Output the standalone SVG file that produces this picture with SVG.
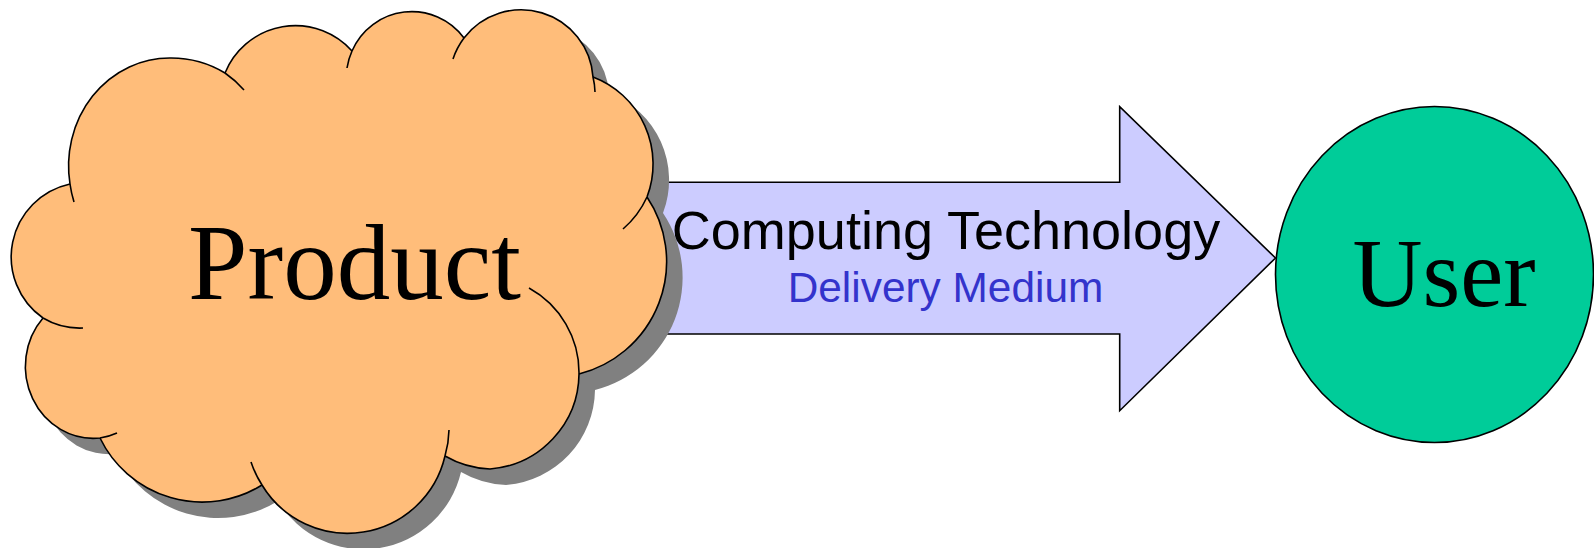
<svg xmlns="http://www.w3.org/2000/svg" width="1594" height="548" viewBox="0 0 1594 548">
<style>
.o{fill:none;stroke:#000;stroke-width:1.6}
text{text-anchor:middle}
.serif{font-family:"Liberation Serif",serif;fill:#000}
.sans{font-family:"Liberation Sans",sans-serif}
</style>
<defs>
<path id="cloudFill" d="M70 184A101 108 0 0 1 170 58A104 104 0 0 1 225 73A76 76 0 0 1 352 51A65 65 0 0 1 464 38A72 72 0 0 1 593 77A93 93 0 0 1 647 197A116 116 0 0 1 579 374A96.500 96.500 0 0 1 490 469A96.500 96.500 0 0 1 445 456A100 100 0 0 1 262 485A113.500 113.500 0 0 1 100 438A68 72 0 0 1 43 318A74.600 74.600 0 0 1 70 184Z"/>
</defs>
<g id="connector">
<path d="M600 182.300H1119.700V106.700L1275.500 258L1119.700 410.700V334H600Z" fill="#ccccff" stroke="#000" stroke-width="1.6"/>
</g>
<g id="product">
<use href="#cloudFill" x="16" y="16" fill="#808080"/>
<use href="#cloudFill" fill="#ffbd7a"/>
<path class="o" d="M74 202A101 108 0 0 1 70 184A101 108 0 0 1 170 58A104 104 0 0 1 225 73A104 104 0 0 1 244 90"/>
<path class="o" d="M225 73A76 76 0 0 1 352 51"/>
<path class="o" d="M347 68A65 65 0 0 1 352 51A65 65 0 0 1 464 38"/>
<path class="o" d="M453 59A72 72 0 0 1 464 38A72 72 0 0 1 593 77A72 72 0 0 1 595 92"/>
<path class="o" d="M593 77A93 93 0 0 1 647 197A93 93 0 0 1 623 229"/>
<path class="o" d="M647 197A116 116 0 0 1 579 374"/>
<path class="o" d="M529 288A96.500 96.500 0 0 1 579 374A96.500 96.500 0 0 1 490 469A96.500 96.500 0 0 1 445 456"/>
<path class="o" d="M449 430A100 100 0 0 1 445 456A100 100 0 0 1 262 485A100 100 0 0 1 251 462"/>
<path class="o" d="M262 485A113.500 113.500 0 0 1 100 438"/>
<path class="o" d="M117 433A68 72 0 0 1 100 438A68 72 0 0 1 43 318"/>
<path class="o" d="M83 328A72 72 0 0 1 43 318A74.600 74.600 0 0 1 70 184"/>
<text class="serif" x="354.500" y="299" font-size="107">Product</text>
</g>
<g id="user">
<ellipse cx="1434.500" cy="274.500" rx="159" ry="168" fill="#00cc99" stroke="#000" stroke-width="1.6"/>
<text class="serif" x="1444" y="306" font-size="97">User</text>
</g>
<g id="labels">
<text class="sans" x="946" y="248.500" font-size="54" fill="#000">Computing Technology</text>
<text class="sans" x="945.500" y="302" font-size="42.400" fill="#3333cc">Delivery Medium</text>
</g>
</svg>
